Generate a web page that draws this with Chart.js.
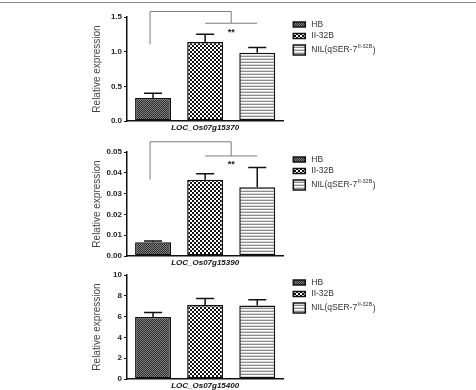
<!DOCTYPE html>
<html>
<head>
<meta charset="utf-8">
<script src="https://cdn.jsdelivr.net/npm/chart.js@4.4.1/dist/chart.umd.min.js"></script>
<style>
    html, body { margin: 0; padding: 0; background: #fff; overflow: hidden; }
    body { width: 476px; height: 390px; position: relative; }
    .frame { position: absolute; left: 0; top: 2px; width: 476px; border-top: 1px solid #8a8a8a; }
    .panel { position: absolute; left: 0; width: 476px; height: 140px; }
</style>
</head>
<body>
<div class="frame"></div>
<div class="panel" style="top:5px"><canvas id="chart15370" width="476" height="140"></canvas></div>
<div class="panel" style="top:140px"><canvas id="chart15390" width="476" height="140"></canvas></div>
<div class="panel" style="top:263px"><canvas id="chart15400" width="476" height="140"></canvas></div>

<script>
const lineNames = ['HB', 'II-32B', 'NIL(qSER-7II-32B)'];
const nilLabelParts = ['NIL(qSER-7', 'II-32B', ')'];

const means15370 = [0.33, 1.14, 0.985];
const errors15370 = [0.07, 0.11, 0.075];
const means15390 = [0.0066, 0.0367, 0.033];
const errors15390 = [0.0006, 0.0029, 0.0095];
const means15400 = [5.97, 7.12, 7.06];
const errors15400 = [0.42, 0.61, 0.57];

const yTicks15370 = [0, 0.5, 1.0, 1.5];
const yTicks15390 = [0, 0.01, 0.02, 0.03, 0.04, 0.05];
const yTicks15400 = [0, 2, 4, 6, 8, 10];

// bracket levels: HB leg start, top line, lower line (under the **)
const bracket15370 = [1.105, 1.58, 1.41];
const bracket15390 = [0.0367, 0.0549, 0.0481];

const FONT = "'Liberation Sans', Arial, sans-serif";

function makePattern(size, draw) {
    const c = document.createElement('canvas');
    c.width = size;
    c.height = size;
    const g = c.getContext('2d');
    draw(g);
    return g.createPattern(c, 'repeat');
}

const fillHB = makePattern(2, (g) => {
    g.fillStyle = '#7e7e7e'; g.fillRect(0, 0, 2, 2);
    g.fillStyle = '#2e2e2e'; g.fillRect(0, 0, 1, 1); g.fillRect(1, 1, 1, 1);
});
const fillII = makePattern(4, (g) => {
    g.fillStyle = '#fff'; g.fillRect(0, 0, 4, 4);
    g.fillStyle = '#111'; g.fillRect(0, 0, 2, 2); g.fillRect(2, 2, 2, 2);
});
const fillNIL = makePattern(3, (g) => {
    g.fillStyle = '#fff'; g.fillRect(0, 0, 3, 3);
    g.fillStyle = '#8c8c8c'; g.fillRect(0, 0, 3, 1);
    g.fillStyle = '#d6d6d6'; g.fillRect(0, 2, 3, 1);
});
const fills = [fillHB, fillII, fillNIL];

const errorBarPlugin = {
    id: 'errorBars',
    afterDatasetsDraw(chart) {
        const ctx = chart.ctx;
        const y = chart.scales.y;
        ctx.save();
        ctx.strokeStyle = '#111';
        ctx.lineWidth = 1.5;
        chart.data.datasets.forEach((ds, i) => {
            const bar = chart.getDatasetMeta(i).data[0];
            const top = y.getPixelForValue(ds.data[0] + ds.errors[0]);
            ctx.beginPath();
            ctx.moveTo(bar.x, bar.y);
            ctx.lineTo(bar.x, top);
            ctx.moveTo(bar.x - 9, top);
            ctx.lineTo(bar.x + 9, top);
            ctx.stroke();
        });
        ctx.restore();
    }
};

const bracketPlugin = {
    id: 'sigBracket',
    afterDatasetsDraw(chart, args, opts) {
        if (!opts.levels) return;
        const ctx = chart.ctx;
        const y = chart.scales.y;
        const xs = chart.data.datasets.map((ds, i) => chart.getDatasetMeta(i).data[0].x);
        const yStart = y.getPixelForValue(opts.levels[0]);
        const yTop = y.getPixelForValue(opts.levels[1]);
        const yLow = y.getPixelForValue(opts.levels[2]);
        const xMid = (xs[1] + xs[2]) / 2;
        ctx.save();
        ctx.strokeStyle = '#7a7a7a';
        ctx.lineWidth = 1;
        ctx.beginPath();
        ctx.moveTo(xs[0] - 3, yStart);
        ctx.lineTo(xs[0] - 3, yTop);
        ctx.lineTo(xMid, yTop);
        ctx.lineTo(xMid, yLow);
        ctx.moveTo(xs[1], yLow);
        ctx.lineTo(xs[2], yLow);
        ctx.stroke();
        ctx.fillStyle = '#222';
        ctx.font = 'bold 9px ' + FONT;
        ctx.textAlign = 'center';
        ctx.textBaseline = 'middle';
        ctx.fillText('**', xMid, yLow + 9);
        ctx.restore();
    }
};

const sideLegendPlugin = {
    id: 'sideLegend',
    afterDraw(chart) {
        const ctx = chart.ctx;
        const area = chart.chartArea;
        const x = area.right + 10;
        const rows = [7.5, 19, 33];
        ctx.save();
        chart.data.datasets.forEach((ds, i) => {
            const yc = area.top + rows[i];
            const h = i === 2 ? 10 : 5;
            ctx.fillStyle = ds.backgroundColor;
            ctx.fillRect(x, yc - h / 2, 12, h);
            ctx.strokeStyle = '#111';
            ctx.lineWidth = 1.5;
            ctx.strokeRect(x, yc - h / 2, 12, h);

            ctx.fillStyle = '#333';
            ctx.textAlign = 'left';
            ctx.textBaseline = 'middle';
            ctx.font = '8.5px ' + FONT;
            if (i < 2) {
                ctx.fillText(ds.label, x + 18, yc);
            } else {
                let tx = x + 18;
                ctx.fillText(nilLabelParts[0], tx, yc);
                tx += ctx.measureText(nilLabelParts[0]).width;
                ctx.font = '5.5px ' + FONT;
                ctx.fillText(nilLabelParts[1], tx + 0.5, yc - 4);
                tx += ctx.measureText(nilLabelParts[1]).width + 1;
                ctx.font = '8.5px ' + FONT;
                ctx.fillText(nilLabelParts[2], tx, yc + 1);
            }
        });
        ctx.restore();
    }
};

function buildChart(canvasId, gene, means, errors, yTicks, decimals, bracket) {
    const canvas = document.getElementById(canvasId);
    if (!canvas) return;

    const datasets = lineNames.map((label, i) => ({
        label: label,
        data: [means[i]],
        errors: [errors[i]],
        backgroundColor: fills[i],
        borderColor: '#111',
        borderWidth: 1.5,
        borderSkipped: false,
        categoryPercentage: 1,
        barPercentage: 0.69,
    }));

    new Chart(canvas, {
        type: 'bar',
        data: { labels: [gene], datasets: datasets },
        options: {
            responsive: false,
            animation: false,
            layout: { padding: { top: 12, left: 86, right: 192.7, bottom: 4 } },
            plugins: {
                legend: { display: false },
                tooltip: { enabled: false },
                sigBracket: { levels: bracket },
            },
            scales: {
                x: {
                    grid: { display: false, drawTicks: false, tickLength: 0 },
                    border: { display: true, color: '#111', width: 1.5 },
                    ticks: {
                        color: '#111',
                        padding: 2,
                        font: { family: FONT, size: 8, weight: 'bold', style: 'italic' }
                    },
                    afterFit(scale) { scale.height = 20; }
                },
                y: {
                    min: yTicks[0],
                    max: yTicks[yTicks.length - 1],
                    afterBuildTicks(scale) { scale.ticks = yTicks.map(v => ({ value: v })); },
                    ticks: {
                        color: '#222',
                        padding: 2,
                        font: { family: FONT, size: 8, weight: 'bold' },
                        callback: (v) => Number(v).toFixed(decimals)
                    },
                    grid: { drawOnChartArea: false, drawTicks: true, tickLength: 3, color: '#111' },
                    border: { display: true, color: '#111', width: 1.5 },
                    title: {
                        display: true,
                        text: 'Relative expression',
                        color: '#444',
                        padding: { top: 5, bottom: 0 },
                        font: { family: FONT, size: 10 }
                    },
                    afterFit(scale) { scale.width = 41; }
                }
            }
        },
        plugins: [errorBarPlugin, bracketPlugin, sideLegendPlugin]
    });
}

buildChart('chart15370', 'LOC_Os07g15370', means15370, errors15370, yTicks15370, 1, bracket15370);
buildChart('chart15390', 'LOC_Os07g15390', means15390, errors15390, yTicks15390, 2, bracket15390);
buildChart('chart15400', 'LOC_Os07g15400', means15400, errors15400, yTicks15400, 0, null);
</script>
</body>
</html>
